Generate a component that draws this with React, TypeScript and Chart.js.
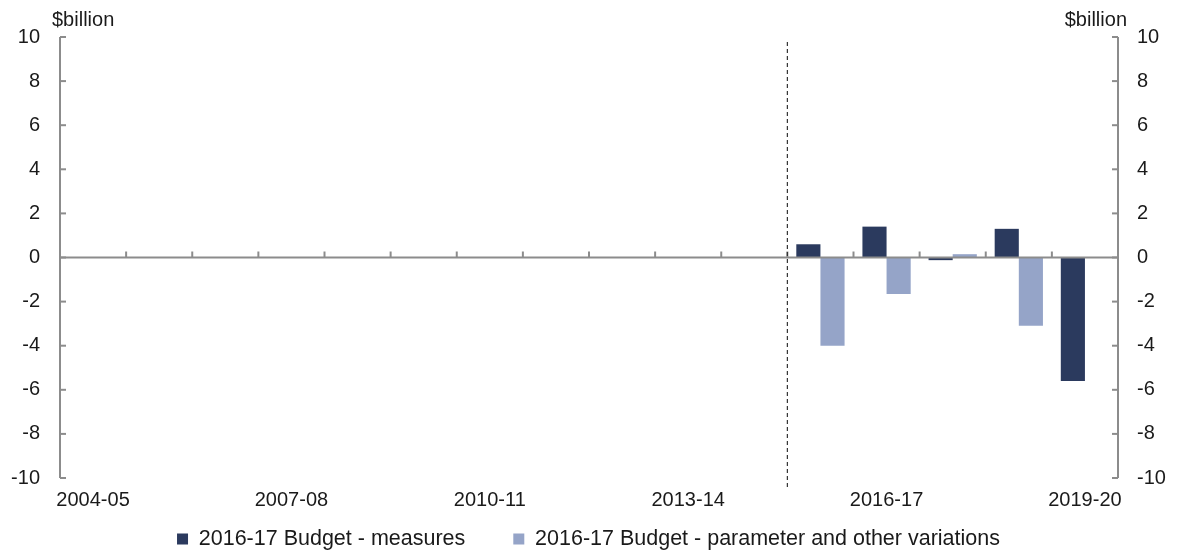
import React, { useEffect, useRef } from 'react';
import { Chart, registerables } from 'chart.js';

Chart.register(...registerables);

const categories = [
  '2004-05', '2005-06', '2006-07', '2007-08', '2008-09', '2009-10', '2010-11', '2011-12',
  '2012-13', '2013-14', '2014-15', '2015-16', '2016-17', '2017-18', '2018-19', '2019-20',
];
const measures: (number | null)[] = [
  null, null, null, null, null, null, null, null, null, null, null, 0.6, 1.4, -0.12, 1.3, -5.6,
];
const variations: (number | null)[] = [
  null, null, null, null, null, null, null, null, null, null, null, -4.0, -1.65, 0.15, -3.1, null,
];
const seriesNames = [
  '2016-17 Budget - measures',
  '2016-17 Budget - parameter and other variations',
];
const yTicks = [-10, -8, -6, -4, -2, 0, 2, 4, 6, 8, 10];
const labelEvery = 3;
const forecastStartIndex = 11;
const unitLabel = '$billion';

const FONT = '"Liberation Sans", Arial, sans-serif';
const AXIS = '#8c8c8c';
const TEXT = '#1a1a1a';
const DARK = '#2B3A5E';
const LIGHT = '#95A4C8';
const LEGEND_SIZE = 21.5;
const LEGEND_PAD = 48;

const decor = {
  id: 'decor',
  afterLayout(chart: any) {
    const lg = chart.legend;
    if (lg) {
      lg.top = 539 - LEGEND_PAD - LEGEND_SIZE / 2;
    }
  },
  afterDatasetsDraw(chart: any) {
    const { ctx, chartArea: a, scales } = chart;
    const xs = scales.x;
    const ys = scales.y;
    const seg = (x1: number, y1: number, x2: number, y2: number) => {
      ctx.beginPath();
      ctx.moveTo(x1, y1);
      ctx.lineTo(x2, y2);
      ctx.stroke();
    };
    ctx.save();
    ctx.strokeStyle = AXIS;
    ctx.lineWidth = 2;
    seg(a.left, a.top, a.left, a.bottom);
    seg(a.right, a.top, a.right, a.bottom);
    ys.ticks.forEach((t: any) => {
      const py = ys.getPixelForValue(t.value);
      seg(a.left, py, a.left + 6, py);
      seg(a.right - 6, py, a.right, py);
    });
    const z = ys.getPixelForValue(0);
    seg(a.left, z, a.right, z);
    for (let i = 1; i < categories.length; i++) {
      const px = (xs.getPixelForValue(i - 1) + xs.getPixelForValue(i)) / 2;
      seg(px, z, px, z - 6);
    }
    const bx = (xs.getPixelForValue(forecastStartIndex - 1) + xs.getPixelForValue(forecastStartIndex)) / 2;
    ctx.strokeStyle = '#333333';
    ctx.lineWidth = 1.2;
    ctx.setLineDash([4, 3]);
    seg(bx, a.top + 5, bx, a.bottom + 9);
    ctx.setLineDash([]);
    ctx.fillStyle = TEXT;
    ctx.font = `20px ${FONT}`;
    ctx.textBaseline = 'middle';
    ctx.textAlign = 'left';
    ctx.fillText(unitLabel, a.left - 8, 20);
    ctx.textAlign = 'right';
    ctx.fillText(unitLabel, a.right + 9, 20);
    ctx.restore();
  },
};

export default function App() {
  const ref = useRef<HTMLCanvasElement | null>(null);
  useEffect(() => {
    document.body.style.margin = '0';
    document.body.style.overflow = 'hidden';
    const canvas = ref.current;
    if (!canvas) return;
    const font = { size: 20, family: FONT };
    const chart = new Chart(canvas, {
      type: 'bar',
      data: {
        labels: categories,
        datasets: [
          {
            label: seriesNames[0],
            data: measures,
            backgroundColor: DARK,
            categoryPercentage: 0.73,
            barPercentage: 1,
            yAxisID: 'y',
          },
          {
            label: seriesNames[1],
            data: variations,
            backgroundColor: LIGHT,
            categoryPercentage: 0.73,
            barPercentage: 1,
            yAxisID: 'y',
          },
        ],
      },
      options: {
        responsive: false,
        maintainAspectRatio: false,
        animation: false,
        layout: { padding: { top: 37, left: 0, right: 0, bottom: 0 } },
        plugins: {
          legend: {
            position: 'bottom',
            maxHeight: 30,
            labels: {
              boxWidth: 11,
              boxHeight: 11,
              padding: LEGEND_PAD,
              color: TEXT,
              font: { size: LEGEND_SIZE, family: FONT },
            },
          },
          tooltip: { enabled: false },
        },
        scales: {
          x: {
            grid: { display: false, drawTicks: false },
            border: { display: false },
            ticks: {
              autoSkip: false,
              maxRotation: 0,
              padding: 10,
              color: TEXT,
              font,
              callback: (_v: any, i: number) => (i % labelEvery === 0 ? categories[i] : ''),
            },
            afterFit: (s: any) => {
              s.height = 42;
            },
          },
          y: {
            position: 'left',
            min: yTicks[0],
            max: yTicks[yTicks.length - 1],
            grid: { display: false, drawTicks: false },
            border: { display: false },
            ticks: { padding: 20, color: TEXT, font },
            afterBuildTicks: (s: any) => {
              s.ticks = yTicks.map((v) => ({ value: v }));
            },
            afterFit: (s: any) => {
              s.width = 60;
            },
          },
          y2: {
            position: 'right',
            display: true,
            min: yTicks[0],
            max: yTicks[yTicks.length - 1],
            grid: { display: false, drawTicks: false },
            border: { display: false },
            ticks: { padding: 19, color: TEXT, font },
            afterBuildTicks: (s: any) => {
              s.ticks = yTicks.map((v) => ({ value: v }));
            },
            afterFit: (s: any) => {
              s.width = 59;
            },
          },
        },
      } as any,
      plugins: [decor as any],
    });
    return () => chart.destroy();
  }, []);
  return (
    <div style={{ width: 1177, height: 550 }}>
      <canvas ref={ref} width={1177} height={550} style={{ display: 'block' }} />
    </div>
  );
}
